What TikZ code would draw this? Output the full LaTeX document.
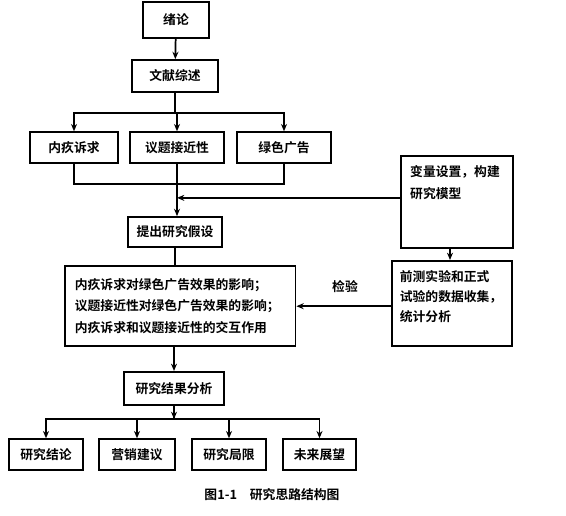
\documentclass[tikz,border=0pt]{standalone}
\usepackage{fontspec}
\setmainfont{Noto Sans CJK SC Bold}
\usetikzlibrary{arrows.meta,positioning,calc}

\begin{document}
\begin{tikzpicture}[x=0.75pt,y=-0.75pt,
    box/.style={rectangle, draw=black, line width=1.3pt, minimum height=23pt, font=\fontsize{9.6}{12}\selectfont, align=center, inner sep=2pt},
    textbox/.style={rectangle, draw=black, line width=1.3pt, font=\fontsize{9.6}{16}\selectfont, align=left, inner sep=6pt, anchor=north west},
    arr/.style={-{Stealth[length=5.5pt,width=4.5pt]}, line width=1.3pt},
    link/.style={line width=1.3pt}
]
    \useasboundingbox (0,0) rectangle (566,516);

    % main column
    \node[box, minimum width=49.5pt, minimum height=27pt] (intro) at (176,20) {绪论};
    \node[box, minimum width=64pt, minimum height=24pt] (review) at (175,76) {文献综述};
    \node[box, minimum width=66pt] (guilt) at (74,147.5) {内疚诉求};
    \node[box, minimum width=71pt] (issue) at (177,147.5) {议题接近性};
    \node[box, minimum width=70pt] (green) at (284,147.5) {绿色广告};
    \node[box, minimum width=71pt, minimum height=22.5pt] (hypo) at (175,232) {提出研究假设};
    \node[textbox, minimum width=173pt, minimum height=60pt] (effect) at (64,265)
        {\parbox{158pt}{\fontsize{9.6}{16}\selectfont 内疚诉求对绿色广告效果的影响；\\议题接近性对绿色广告效果的影响；\\内疚诉求和议题接近性的交互作用}};
    \node[box, minimum width=75pt, minimum height=25pt] (result) at (174,388.5) {研究结果分析};

    % right column
    \node[textbox, inner sep=7pt] (model) at (400,155)
        {\parbox[t][55pt][t]{70pt}{\fontsize{9.6}{17}\selectfont 变量设置，构建\\研究模型}};
    \node[textbox, inner sep=7pt, inner xsep=6pt] (collect) at (391,260)
        {\parbox[t][50pt][t]{78pt}{\fontsize{9.6}{15}\selectfont 前测实验和正式\\试验的数据收集，\\统计分析}};
    \coordinate (mx) at (450,0);

    % outcomes
    \node[box, minimum width=55.5pt] (concl) at (46,454.5) {研究结论};
    \node[box, minimum width=57pt] (market) at (137,454.5) {营销建议};
    \node[box, minimum width=55.5pt] (limit) at (229,454.5) {研究局限};
    \node[box, minimum width=55pt] (future) at (319.5,454.5) {未来展望};

    % connectors
    \draw[arr] (intro) -- (review);
    \draw[link] (review.south) -- ++(0,20) coordinate (split);
    \draw[arr] (split) -| (guilt.north);
    \draw[arr] (split) -| (green.north);
    \draw[arr] (split) -- (split -| issue.north) -- (issue.north);
    \draw[link] (guilt.south) -- ++(0,20) coordinate (mergeL) -| (green.south);
    \draw[link] (issue.south) -- (issue.south |- mergeL) coordinate (merge);
    \draw[arr] (merge) -- (merge |- hypo.north);
    \draw[arr] ([yshift=3pt]model.west) -- ([yshift=3pt]model.west -| merge);
    \draw[link] (hypo.south) -- (hypo.south |- effect.north);
    \draw[arr] (model.south -| mx) -- (collect.north -| mx);
    \draw[arr] ([yshift=-2pt]collect.west) -- ([yshift=-2pt]collect.west -| effect.east);
    \node[font=\fontsize{9.6}{12}\selectfont] (check) at (345,287) {检验};
    \draw[arr] (effect.south -| result.north) -- (result.north);
    \draw[link] (result.south) -- ++(0,13) coordinate (split2);
    \draw[arr] (result.south) -- (split2);
    \draw[arr] (split2) -| (concl.north);
    \draw[arr] (split2) -| (market.north);
    \draw[arr] (split2) -| (limit.north);
    \draw[arr] (split2) -| (future.north);

    % caption
    \node[font=\fontsize{9.6}{12}\selectfont] (caption) at (272,495) {图1-1\quad 研究思路结构图};
\end{tikzpicture}
\end{document}
